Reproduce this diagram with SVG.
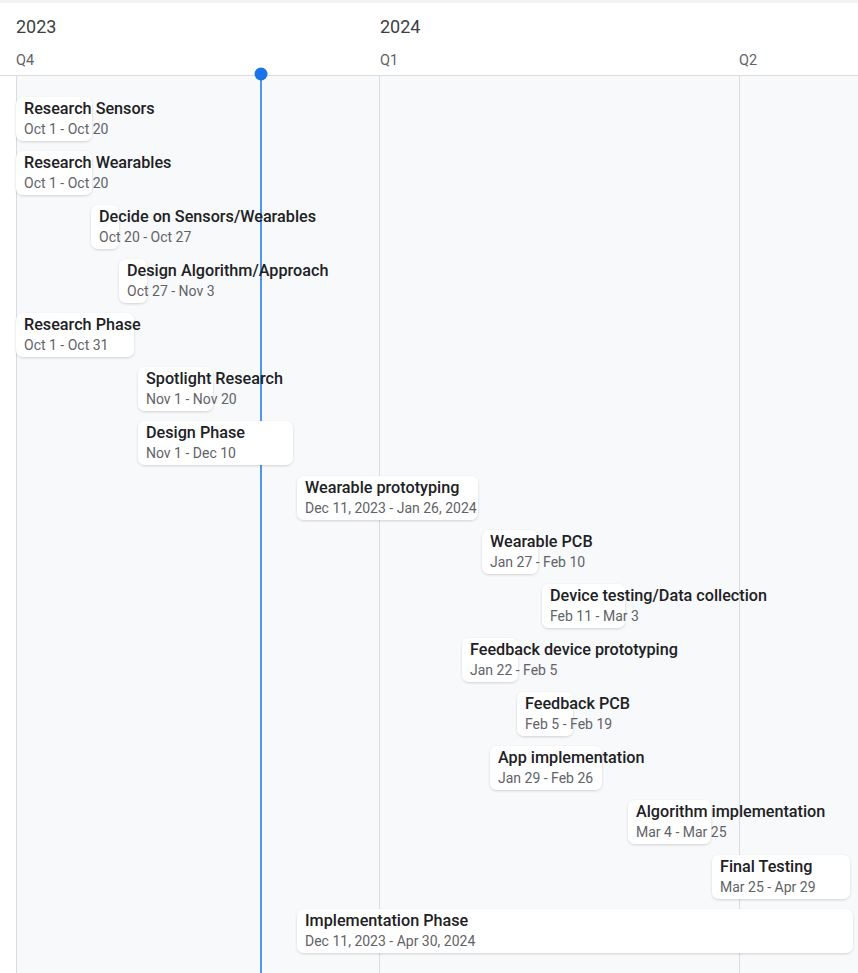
<svg xmlns="http://www.w3.org/2000/svg" width="858" height="973" viewBox="0 0 858 973">
<defs>
<filter id="sh" x="-10%" y="-20%" width="120%" height="150%">
<feDropShadow dx="0" dy="1" stdDeviation="1" flood-color="#3c4043" flood-opacity="0.22"/>
</filter>
</defs>
<style>
.yr{font-family:Roboto,"Liberation Sans",sans-serif;font-size:18px;fill:#3c4043}
.q{font-family:Roboto,"Liberation Sans",sans-serif;font-size:14.5px;fill:#5f6368}
.card{fill:#ffffff;filter:url(#sh)}
.t{font-family:Roboto,"Liberation Sans",sans-serif;font-size:16.2px;font-weight:500;fill:#202124}
.d{font-family:Roboto,"Liberation Sans",sans-serif;font-size:14px;fill:#5f6368}
.grid{stroke:#dadce0;stroke-width:1}
</style>
<rect x="0" y="0" width="858" height="973" fill="#ffffff"/>
<rect x="0" y="0" width="858" height="3" fill="#f1f3f4"/>
<rect x="16" y="76" width="842" height="897" fill="#f8f9fa"/>
<g id="header">
<text class="yr" x="16" y="33">2023</text>
<text class="yr" x="380" y="33">2024</text>
<text class="q" x="16" y="65">Q4</text>
<text class="q" x="380" y="65">Q1</text>
<text class="q" x="739" y="65">Q2</text>
</g>
<g id="connectors">
<line class="grid" x1="0" y1="75.5" x2="858" y2="75.5"/>
<line class="grid" x1="16.5" y1="76" x2="16.5" y2="973"/>
<line class="grid" x1="379.5" y1="76" x2="379.5" y2="973"/>
<line class="grid" x1="739.5" y1="76" x2="739.5" y2="973"/>
<line x1="261" y1="74" x2="261" y2="973" stroke="#1a73e8" stroke-width="1.5"/>
<circle cx="261" cy="74" r="6.5" fill="#1a73e8"/>
</g>
<g id="research-sensors"><rect class="card" x="16" y="97" width="76" height="44" rx="7"/><text class="t" x="24" y="114">Research Sensors</text><text class="d" x="24" y="134">Oct 1 - Oct 20</text></g>
<g id="research-wearables"><rect class="card" x="16" y="151" width="76" height="44" rx="7"/><text class="t" x="24" y="168">Research Wearables</text><text class="d" x="24" y="188">Oct 1 - Oct 20</text></g>
<g id="decide-sensors"><rect class="card" x="91" y="205" width="28" height="44" rx="7"/><text class="t" x="99" y="222">Decide on Sensors/Wearables</text><text class="d" x="99" y="242">Oct 20 - Oct 27</text></g>
<g id="design-algorithm"><rect class="card" x="119" y="259" width="28" height="44" rx="7"/><text class="t" x="127" y="276">Design Algorithm/Approach</text><text class="d" x="127" y="296">Oct 27 - Nov 3</text></g>
<g id="research-phase"><rect class="card" x="16" y="313" width="118" height="44" rx="7"/><text class="t" x="24" y="330">Research Phase</text><text class="d" x="24" y="350">Oct 1 - Oct 31</text></g>
<g id="spotlight-research"><rect class="card" x="138" y="367" width="75" height="44" rx="7"/><text class="t" x="146" y="384">Spotlight Research</text><text class="d" x="146" y="404">Nov 1 - Nov 20</text></g>
<g id="design-phase"><rect class="card" x="138" y="421" width="155" height="44" rx="7"/><text class="t" x="146" y="438">Design Phase</text><text class="d" x="146" y="458">Nov 1 - Dec 10</text></g>
<g id="wearable-prototyping"><rect class="card" x="297" y="476" width="181" height="44" rx="7"/><text class="t" x="305" y="493">Wearable prototyping</text><text class="d" x="305" y="513">Dec 11, 2023 - Jan 26, 2024</text></g>
<g id="wearable-pcb"><rect class="card" x="482" y="530" width="56" height="44" rx="7"/><text class="t" x="490" y="547">Wearable PCB</text><text class="d" x="490" y="567">Jan 27 - Feb 10</text></g>
<g id="device-testing"><rect class="card" x="542" y="584" width="83" height="44" rx="7"/><text class="t" x="550" y="601">Device testing/Data collection</text><text class="d" x="550" y="621">Feb 11 - Mar 3</text></g>
<g id="feedback-prototyping"><rect class="card" x="462" y="638" width="56" height="44" rx="7"/><text class="t" x="470" y="655">Feedback device prototyping</text><text class="d" x="470" y="675">Jan 22 - Feb 5</text></g>
<g id="feedback-pcb"><rect class="card" x="517" y="692" width="56" height="44" rx="7"/><text class="t" x="525" y="709">Feedback PCB</text><text class="d" x="525" y="729">Feb 5 - Feb 19</text></g>
<g id="app-implementation"><rect class="card" x="490" y="746" width="112" height="44" rx="7"/><text class="t" x="498" y="763">App implementation</text><text class="d" x="498" y="783">Jan 29 - Feb 26</text></g>
<g id="algorithm-implementation"><rect class="card" x="628" y="800" width="83" height="44" rx="7"/><text class="t" x="636" y="817">Algorithm implementation</text><text class="d" x="636" y="837">Mar 4 - Mar 25</text></g>
<g id="final-testing"><rect class="card" x="712" y="855" width="138" height="44" rx="7"/><text class="t" x="720" y="872">Final Testing</text><text class="d" x="720" y="892">Mar 25 - Apr 29</text></g>
<g id="implementation-phase"><rect class="card" x="297" y="909" width="556" height="44" rx="7"/><text class="t" x="305" y="926">Implementation Phase</text><text class="d" x="305" y="946">Dec 11, 2023 - Apr 30, 2024</text></g>
</svg>
